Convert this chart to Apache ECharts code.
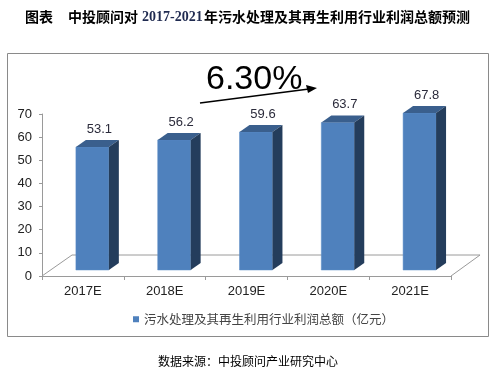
<!DOCTYPE html>
<html>
<head>
<meta charset="utf-8">
<script src="https://cdn.jsdelivr.net/npm/echarts@6/dist/echarts.min.js"></script>
<style>
html,body{margin:0;padding:0;background:#fff;}
#c{width:500px;height:371px;}
</style>
</head>
<body>
<div id="c"></div>
<script>
const categories = ['2017E', '2018E', '2019E', '2020E', '2021E'];
const profitValues = [53.1, 56.2, 59.6, 63.7, 67.8];
const seriesName = '污水处理及其再生利用行业利润总额（亿元）';
const growthLabel = '6.30%';

const chart = echarts.init(document.getElementById('c'), null, {renderer: 'canvas'});
const CJK = '"Noto Sans CJK SC", sans-serif';
const SANS = '"Liberation Sans", Arial, sans-serif';

function renderBar(params, api) {
  const xi = api.value(0), v = api.value(1);
  const base = api.coord([xi, 0]);
  const topP = api.coord([xi, v]);
  const band = api.size([1, 0])[0];
  const w = band * 0.403;
  const ox = band * 0.116, oy = -6;
  const dx = band * 0.122, dy = -7;
  const cx = base[0] + ox;
  const x0 = cx - w / 2, x1 = cx + w / 2;
  const yb = base[1] + oy, yt = topP[1] + oy;
  const children = [];
  if (params.dataIndex === 0) {
    const cs = params.coordSys;
    const fx = band * 0.367, fy = -21;
    const gy = cs.y + cs.height;
    const ls = {stroke: '#9a9a9a', lineWidth: 1};
    children.push({type: 'line', silent: true, shape: {x1: cs.x, y1: gy, x2: cs.x + fx, y2: gy + fy}, style: ls});
    children.push({type: 'line', silent: true, shape: {x1: cs.x + fx, y1: gy + fy, x2: cs.x + cs.width + fx - 1, y2: gy + fy}, style: ls});
    children.push({type: 'line', silent: true, shape: {x1: cs.x + cs.width, y1: gy, x2: cs.x + cs.width + fx - 1, y2: gy + fy}, style: ls});
  }
  children.push({type: 'rect', shape: {x: x0, y: yt, width: w, height: yb - yt}, style: {fill: '#4F81BD', stroke: '#5a8cc6', lineWidth: 0.5}});
  children.push({type: 'polygon', shape: {points: [[x0, yt], [x1, yt], [x1 + dx, yt + dy], [x0 + dx, yt + dy]]}, style: {fill: '#3A5F8D'}});
  children.push({type: 'polygon', shape: {points: [[x1, yt], [x1 + dx, yt + dy], [x1 + dx, yb + dy], [x1, yb]]}, style: {fill: '#243D5C'}});
  children.push({type: 'text', style: {text: String(v), x: cx + dx / 2 + 2, y: yt + dy - 11, textAlign: 'center', textVerticalAlign: 'middle', fontSize: 13, fontFamily: SANS, fill: '#2b2b3b'}});
  return {type: 'group', children: children};
}

const option = {
  backgroundColor: '#ffffff',
  animation: false,
  grid: {left: 42, right: 49, top: 114, bottom: 95},
  legend: {
    data: [{name: seriesName, icon: 'rect'}],
    left: 128, top: 308,
    itemWidth: 6, itemHeight: 6, itemGap: 4,
    textStyle: {fontSize: 12.5, fontFamily: CJK, color: '#444'}
  },
  xAxis: {
    type: 'category', data: categories,
    axisLine: {lineStyle: {color: '#9a9a9a', width: 1}},
    axisTick: {show: true, length: 4, lineStyle: {color: '#9a9a9a'}},
    axisLabel: {fontSize: 13, fontFamily: SANS, color: '#222', margin: 9},
    splitLine: {show: false}
  },
  yAxis: {
    type: 'value', min: 0, max: 70, interval: 10,
    axisLine: {show: true, lineStyle: {color: '#9a9a9a', width: 1}},
    axisTick: {show: true, length: 3, lineStyle: {color: '#9a9a9a'}},
    axisLabel: {fontSize: 13, fontFamily: SANS, color: '#222', margin: 10},
    splitLine: {show: false}
  },
  series: [{
    type: 'custom', name: seriesName,
    itemStyle: {color: '#4F81BD'},
    renderItem: renderBar,
    encode: {x: 0, y: 1},
    data: profitValues.map((v, i) => [i, v])
  }],
  graphic: [
    {type: 'rect', z: -10, silent: true, shape: {x: 7.5, y: 53.5, width: 481, height: 283}, style: {fill: 'none', stroke: '#8a8a8a', lineWidth: 1}},
    {type: 'text', style: {text: '图表', x: 25, y: 17, textVerticalAlign: 'middle', fontSize: 14, fontWeight: 'bold', fontFamily: CJK, fill: '#000'}},
    {type: 'text', style: {text: '中投顾问对', x: 68, y: 17, textVerticalAlign: 'middle', fontSize: 14, fontWeight: 'bold', fontFamily: CJK, fill: '#000'}},
    {type: 'text', style: {text: '2017-2021', x: 142, y: 17, textVerticalAlign: 'middle', fontSize: 14, fontWeight: 'bold', fontFamily: '"Liberation Serif", serif', fill: '#1f2a50'}},
    {type: 'text', style: {text: '年污水处理及其再生利用行业利润总额预测', x: 204, y: 17, textVerticalAlign: 'middle', fontSize: 14, fontWeight: 'bold', fontFamily: CJK, fill: '#000'}},
    {type: 'text', style: {text: growthLabel, x: 206, y: 80, textVerticalAlign: 'middle', fontSize: 34, fontFamily: SANS, fill: '#000'}},
    {type: 'line', shape: {x1: 200, y1: 103, x2: 309, y2: 89}, style: {stroke: '#000', lineWidth: 1.5}},
    {type: 'polygon', shape: {points: [[317, 88], [306, 85], [308, 93]]}, style: {fill: '#000'}},
    {type: 'text', style: {text: '数据来源：中投顾问产业研究中心', x: 248, y: 361, textAlign: 'center', textVerticalAlign: 'middle', fontSize: 12, fontFamily: CJK, fill: '#000'}}
  ]
};
chart.setOption(option);
</script>
</body>
</html>
